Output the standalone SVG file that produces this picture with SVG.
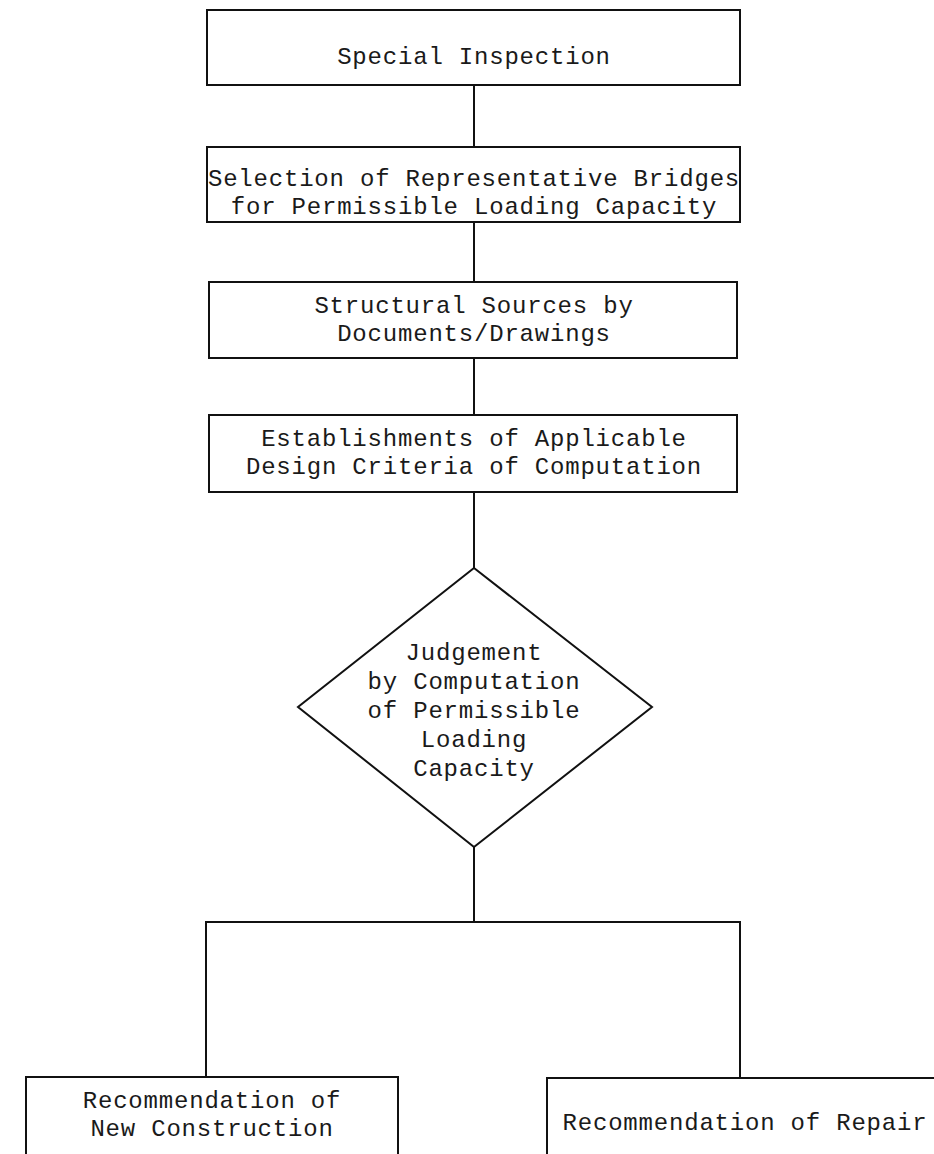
<svg xmlns="http://www.w3.org/2000/svg" width="934" height="1154" viewBox="0 0 934 1154">
<style>
  .box { fill: none; stroke: #111; stroke-width: 2; }
  .conn { fill: none; stroke: #111; stroke-width: 2; }
  text { font-family: "Liberation Mono", "DejaVu Sans Mono", monospace; font-size: 24px; letter-spacing: 0.8px; fill: #1a1a1a; text-anchor: middle; }
</style>
<rect width="934" height="1154" fill="#ffffff"/>
<g id="connectors">
  <line class="conn" x1="474" y1="85" x2="474" y2="147"/>
  <line class="conn" x1="474" y1="222" x2="474" y2="282"/>
  <line class="conn" x1="474" y1="358" x2="474" y2="415"/>
  <line class="conn" x1="474" y1="492" x2="474" y2="568"/>
  <polyline class="conn" points="474,847 474,922"/>
  <polyline class="conn" points="206,1077 206,922 740,922 740,1078"/>
</g>
<g id="special-inspection">
  <rect class="box" x="207" y="10" width="533" height="75"/>
  <text x="474" y="64">Special Inspection</text>
</g>
<g id="selection">
  <rect class="box" x="207" y="147" width="533" height="75"/>
  <text x="474" y="186">Selection of Representative Bridges</text>
  <text x="474" y="214">for Permissible Loading Capacity</text>
</g>
<g id="structural-sources">
  <rect class="box" x="209" y="282" width="528" height="76"/>
  <text x="474" y="313">Structural Sources by</text>
  <text x="474" y="341">Documents/Drawings</text>
</g>
<g id="design-criteria">
  <rect class="box" x="209" y="415" width="528" height="77"/>
  <text x="474" y="446">Establishments of Applicable</text>
  <text x="474" y="474">Design Criteria of Computation</text>
</g>
<g id="judgement">
  <polygon class="box" points="474,568 652,707 474,847 298,707"/>
  <text x="474" y="660">Judgement</text>
  <text x="474" y="689">by Computation</text>
  <text x="474" y="718">of Permissible</text>
  <text x="474" y="747">Loading</text>
  <text x="474" y="776">Capacity</text>
</g>
<g id="new-construction">
  <polyline class="box" points="26,1154 26,1077 398,1077 398,1154"/>
  <text x="212" y="1108">Recommendation of</text>
  <text x="212" y="1136">New Construction</text>
</g>
<g id="repair">
  <polyline class="box" points="547,1154 547,1078 934,1078"/>
  <text x="745" y="1130">Recommendation of Repair</text>
</g>
</svg>
